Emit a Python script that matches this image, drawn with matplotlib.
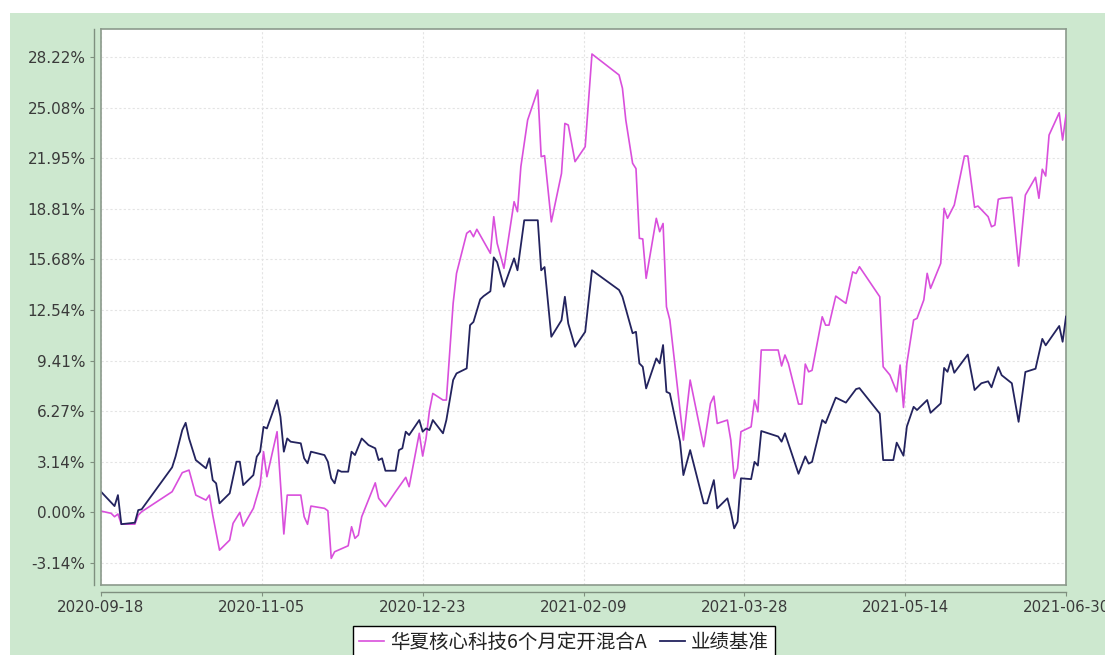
import matplotlib
matplotlib.use('Agg')
import matplotlib.pyplot as plt
from matplotlib.patches import Rectangle
from matplotlib.lines import Line2D

# days after 2020-09-18, cumulative return in %
fund_days = [0, 3, 4, 5, 6, 10, 11, 12, 21, 24, 26, 28, 31, 32, 33, 35, 38, 39, 41, 42,
             45, 47, 48, 49, 52, 54, 55, 59, 60, 61, 62, 66, 67, 68, 69, 73, 74, 75, 76, 77,
             81, 82, 84, 87, 90, 91, 94, 95, 96, 97, 98, 101, 102, 104, 105, 108, 109, 110, 111, 115,
             116, 117, 119, 122, 123, 124, 126, 129, 130, 131, 133, 136, 137, 138, 140, 143, 145, 153, 154, 155,
             157, 158, 159, 160, 161, 164, 165, 166, 167, 168, 172, 174, 178, 180, 181, 182, 185, 186, 187, 188,
             189, 192, 193, 194, 195, 200, 201, 202, 203, 206, 207, 208, 209, 210, 213, 214, 215, 217, 220, 222,
             223, 224, 230, 231, 233, 235, 236, 237, 238, 240, 241, 243, 244, 245, 248, 249, 250, 252, 255, 256,
             258, 259, 262, 263, 264, 265, 266, 269, 271, 272, 273, 276, 277, 278, 279, 280, 283, 284, 285]
fund_ret = [0.08, -0.06, -0.27, -0.10, -0.73, -0.73, -0.17, 0.04, 1.28, 2.46, 2.62, 1.07, 0.76, 1.07, -0.17, -2.34, -1.72, -0.68, 0.00, -0.85,
            0.25, 1.69, 3.76, 2.21, 5.00, -1.34, 1.07, 1.07, -0.27, -0.74, 0.39, 0.25, 0.10, -2.85, -2.44, -2.07, -0.89, -1.61, -1.41, -0.27,
            1.83, 0.87, 0.35, 1.28, 2.17, 1.59, 4.90, 3.49, 4.58, 6.30, 7.37, 6.96, 6.96, 12.95, 14.81, 17.29, 17.45, 17.08, 17.54, 16.05,
            18.32, 16.67, 15.12, 19.25, 18.63, 21.42, 24.31, 26.17, 22.04, 22.10, 18.00, 21.00, 24.10, 24.00, 21.73, 22.66, 28.40, 27.10, 26.28, 24.30,
            21.63, 21.30, 16.98, 16.94, 14.50, 18.22, 17.39, 17.90, 12.74, 11.92, 4.48, 8.20, 4.07, 6.75, 7.20, 5.51, 5.72, 4.48, 2.11, 2.73,
            5.00, 5.30, 6.96, 6.23, 10.06, 10.06, 9.07, 9.75, 9.23, 6.71, 6.71, 9.19, 8.71, 8.80, 12.12, 11.60, 11.60, 13.40, 12.95, 14.90,
            14.80, 15.22, 13.36, 9.02, 8.51, 7.47, 9.13, 6.50, 9.23, 11.92, 12.02, 13.16, 14.81, 13.88, 15.43, 18.84, 18.22, 19.04, 22.08, 22.08,
            18.90, 18.98, 18.32, 17.70, 17.80, 19.40, 19.46, 19.52, 15.26, 17.49, 19.66, 20.76, 19.46, 21.26, 20.84, 23.38, 24.76, 23.07, 24.62]

bench_days = [0, 4, 5, 6, 10, 11, 12, 21, 22, 24, 25, 26, 28, 31, 32, 33, 34, 35, 38, 40,
              41, 42, 45, 46, 47, 48, 49, 52, 53, 54, 55, 56, 59, 60, 61, 62, 66, 67, 68, 69,
              70, 71, 73, 74, 75, 77, 79, 81, 82, 83, 84, 87, 88, 89, 90, 91, 94, 95, 96, 97,
              98, 101, 102, 104, 105, 108, 109, 110, 112, 113, 115, 116, 117, 119, 122, 123, 125, 129, 130, 131,
              133, 136, 137, 138, 140, 143, 145, 153, 154, 157, 158, 159, 160, 161, 164, 165, 166, 167, 168, 171,
              172, 174, 178, 179, 181, 182, 185, 186, 187, 188, 189, 192, 193, 194, 195, 200, 201, 202, 206, 208,
              209, 210, 213, 214, 217, 220, 223, 224, 230, 231, 234, 235, 237, 238, 240, 241, 244, 245, 248, 249,
              250, 251, 252, 256, 258, 260, 262, 263, 265, 266, 269, 271, 273, 276, 278, 279, 283, 284, 285]
bench_ret = [1.28, 0.39, 1.07, -0.73, -0.64, 0.14, 0.19, 2.79, 3.45, 5.10, 5.55, 4.58, 3.24, 2.73, 3.35, 2.00, 1.80, 0.56, 1.18, 3.14,
             3.14, 1.69, 2.31, 3.45, 3.76, 5.30, 5.20, 6.96, 5.92, 3.76, 4.58, 4.38, 4.28, 3.35, 3.04, 3.76, 3.55, 3.14, 2.11, 1.80,
             2.62, 2.52, 2.52, 3.76, 3.55, 4.58, 4.17, 3.97, 3.24, 3.35, 2.58, 2.58, 3.86, 3.97, 5.00, 4.79, 5.72, 5.00, 5.20, 5.10,
             5.72, 4.90, 5.72, 8.20, 8.61, 8.92, 11.60, 11.80, 13.20, 13.40, 13.70, 15.80, 15.50, 13.98, 15.74, 15.00, 18.10, 18.10, 15.00, 15.20,
             10.88, 11.90, 13.36, 11.70, 10.26, 11.19, 15.00, 13.78, 13.36, 11.10, 11.19, 9.23, 9.02, 7.68, 9.54, 9.23, 10.37, 7.47, 7.37, 4.38,
             2.31, 3.86, 0.56, 0.56, 2.00, 0.25, 0.87, 0.04, -0.99, -0.58, 2.11, 2.06, 3.13, 2.90, 5.04, 4.70, 4.38, 4.90, 2.39, 3.47,
             3.02, 3.13, 5.72, 5.53, 7.11, 6.80, 7.64, 7.70, 6.12, 3.24, 3.24, 4.32, 3.51, 5.32, 6.54, 6.34, 6.96, 6.17, 6.75, 8.95,
             8.71, 9.40, 8.65, 9.78, 7.58, 8.00, 8.12, 7.75, 9.00, 8.50, 8.00, 5.61, 8.70, 8.90, 10.75, 10.35, 11.55, 10.57, 12.13]

x_tick_pos = [0, 47.5, 95, 142.5, 190, 237.5, 285]
x_tick_labels = ['2020-09-18', '2020-11-05', '2020-12-23', '2021-02-09',
                 '2021-03-28', '2021-05-14', '2021-06-30']
y_step = 3.1356
y_ticks = [y_step * k for k in range(-1, 10)]

fund_name = '华夏核心科技6个月定开混合A'
bench_name = '业绩基准'

W, H = 1105, 655
fig = plt.figure(figsize=(W / 100, H / 100), dpi=100)
fig.patch.set_facecolor('white')
fig.add_artist(Rectangle((10 / W, 0), 1, (H - 13) / H, transform=fig.transFigure,
                         facecolor='#cde8cf', edgecolor='none', zorder=-5))

ax = fig.add_axes([101 / W, 1 - 585 / H, (1066 - 101) / W, (585 - 29) / H])
ax.set_facecolor('white')

ax.plot(fund_days, fund_ret, color='#d94fdc', lw=1.2, zorder=3)
ax.plot(bench_days, bench_ret, color='#23235e', lw=1.3, zorder=4)

ax.set_xlim(0, 285)
ax.set_ylim(-4.5, 29.95)
ax.set_xticks(x_tick_pos)
ax.set_xticklabels(x_tick_labels)
ax.set_yticks(y_ticks)
ax.set_yticklabels(['%.2f%%' % v for v in y_ticks])

ax.grid(True, color='#e4e4e4', ls=(0, (2, 2)), lw=0.8)
ax.set_axisbelow(True)

frame_c = '#8c9a8c'
for s in ['left', 'bottom']:
    ax.spines[s].set_position(('outward', 5))
    ax.spines[s].set_color('#7f8f7f')
    ax.spines[s].set_linewidth(1.0)
for s in ['top', 'right']:
    ax.spines[s].set_color(frame_c)
    ax.spines[s].set_linewidth(1.2)
# inner frame edges on left and bottom
ax.plot([0, 0], [0, 1], transform=ax.transAxes, color=frame_c, lw=1.2, clip_on=False, zorder=5)
ax.plot([0, 1], [0, 0], transform=ax.transAxes, color=frame_c, lw=1.2, clip_on=False, zorder=5)

ax.tick_params(axis='both', direction='out', length=3, width=0.8, color='#7f8f7f',
               labelcolor='#3a3a3a', pad=3)
ax.tick_params(axis='y', labelsize=11)
ax.tick_params(axis='x', labelsize=10.8)

handles = [Line2D([], [], color='#d94fdc', lw=1.2), Line2D([], [], color='#23235e', lw=1.3)]
leg = fig.legend(handles, [fund_name, bench_name], loc='upper center',
                 bbox_to_anchor=(564 / W, 1 - 626 / H), ncol=2, frameon=True, fancybox=False,
                 framealpha=1, borderaxespad=0, handlelength=1.3, handletextpad=0.3,
                 columnspacing=0.7, borderpad=0.3,
                 prop={'family': ['Noto Sans CJK SC', 'DejaVu Sans'], 'size': 14})
leg.get_frame().set_edgecolor('black')
leg.get_frame().set_linewidth(1.0)
for t in leg.get_texts():
    t.set_color('#222222')

fig.savefig('out.png', dpi=100)
